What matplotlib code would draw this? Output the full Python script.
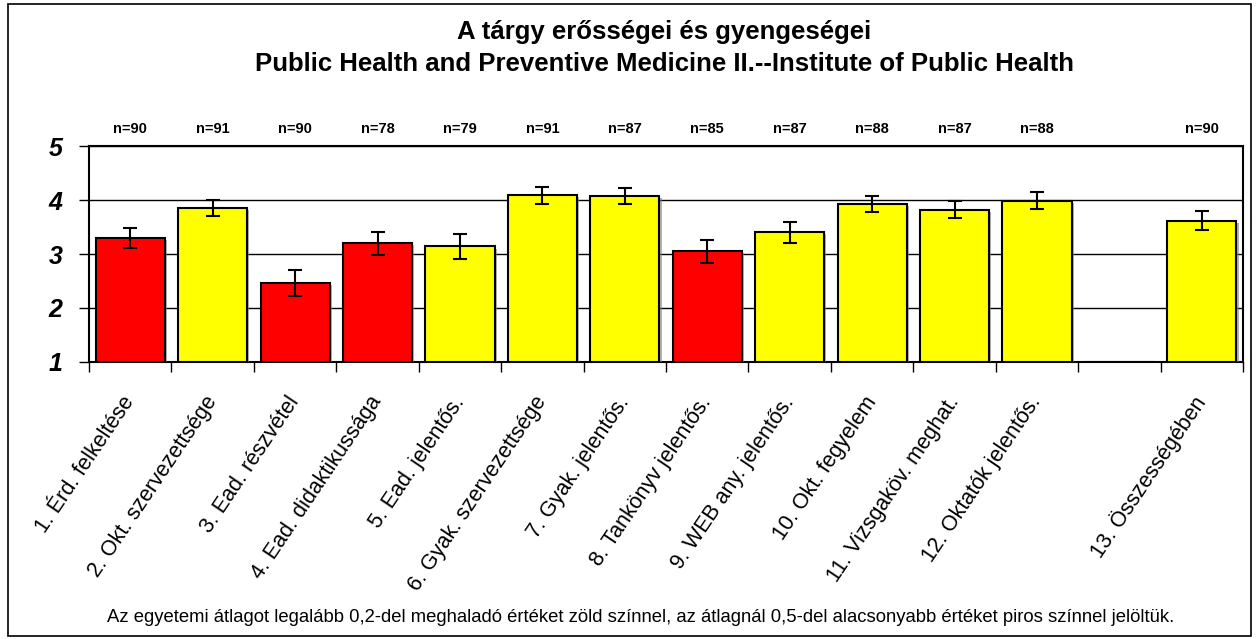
import matplotlib.pyplot as plt
import matplotlib.patheffects as pe
import numpy as np

# adatok
labels = ["1. Érd. felkeltése", "2. Okt. szervezettsége", "3. Ead. részvétel",
          "4. Ead. didaktikussága", "5. Ead. jelentős.", "6. Gyak. szervezettsége",
          "7. Gyak. jelentős.", "8. Tankönyv jelentős.", "9. WEB any. jelentős.",
          "10. Okt. fegyelem", "11. Vizsgaköv. meghat.", "12. Oktatók jelentős.",
          "", "13. Összességében"]
means = [3.30, 3.85, 2.47, 3.20, 3.14, 4.09, 4.07, 3.05, 3.40, 3.92, 3.82, 3.99, np.nan, 3.62]
errs = [0.18, 0.15, 0.24, 0.21, 0.23, 0.16, 0.15, 0.21, 0.20, 0.15, 0.16, 0.16, np.nan, 0.17]
n_labels = ["n=90", "n=91", "n=90", "n=78", "n=79", "n=91", "n=87", "n=85", "n=87",
            "n=88", "n=87", "n=88", "", "n=90"]
colors = ["red", "yellow", "red", "red", "yellow", "yellow", "yellow", "red", "yellow",
          "yellow", "yellow", "yellow", "white", "yellow"]

plt.rcParams['font.family'] = ['Liberation Sans', 'DejaVu Sans']

fig = plt.figure(figsize=(12.56, 6.39), dpi=100)
ax = fig.add_axes([0.0709, 0.4335, 0.9188, 0.338])

x = np.arange(len(labels))
base = 1
heights = [m - base if not np.isnan(m) else 0 for m in means]
bars = ax.bar(x, heights, bottom=base, width=0.84, color=colors, edgecolor="black",
              linewidth=1.5, zorder=3)
for b in bars:
    b.set_path_effects([pe.SimplePatchShadow(offset=(1.5, -1.5), shadow_rgbFace="gray", alpha=0.6),
                        pe.Normal()])
ax.errorbar(x, means, yerr=errs, fmt="none", ecolor="black", elinewidth=1.5,
            capsize=5, capthick=1.5, zorder=4)

# n= feliratok
for i, t in enumerate(n_labels):
    ax.text(i, 1.08, t, transform=ax.get_xaxis_transform(), ha="center", va="center",
            fontsize=10.5, fontweight="bold")

ax.set_xlim(-0.5, len(labels) - 0.5)
ax.set_ylim(1, 5)
ax.set_yticks([1, 2, 3, 4, 5])
ax.tick_params(axis="y", labelsize=18, length=7, width=1, pad=12)
for lab in ax.get_yticklabels():
    lab.set_fontweight("bold")
    lab.set_fontstyle("italic")

ax.set_xticks(np.arange(-0.5, len(labels)), minor=True)
ax.set_xticks(x)
ax.set_xticklabels(labels, rotation=56, ha="right", va="center", rotation_mode="anchor",
                   fontsize=15.5)
ax.tick_params(axis="x", which="major", length=0, pad=26)
ax.tick_params(axis="x", which="minor", length=7, width=1)

ax.grid(axis="y", color="black", linewidth=1, zorder=0)
ax.set_axisbelow(True)
for s in ax.spines.values():
    s.set_linewidth(1.5)

fig.text(0.529, 0.95, "A tárgy erősségei és gyengeségei", ha="center", va="center",
         fontsize=18.5, fontweight="bold")
fig.text(0.529, 0.9, "Public Health and Preventive Medicine II.--Institute of Public Health",
         ha="center", va="center", fontsize=18.5, fontweight="bold")
fig.text(0.51, 0.034, "Az egyetemi átlagot legalább 0,2-del meghaladó értéket zöld színnel, "
         "az átlagnál 0,5-del alacsonyabb értéket piros színnel jelöltük.",
         ha="center", va="center", fontsize=13.3)

# keret
fig.patches.append(plt.Rectangle((0.006, 0.005), 0.99, 0.988, transform=fig.transFigure,
                                 fill=False, edgecolor="black", linewidth=1.2))

plt.savefig("out.png")
